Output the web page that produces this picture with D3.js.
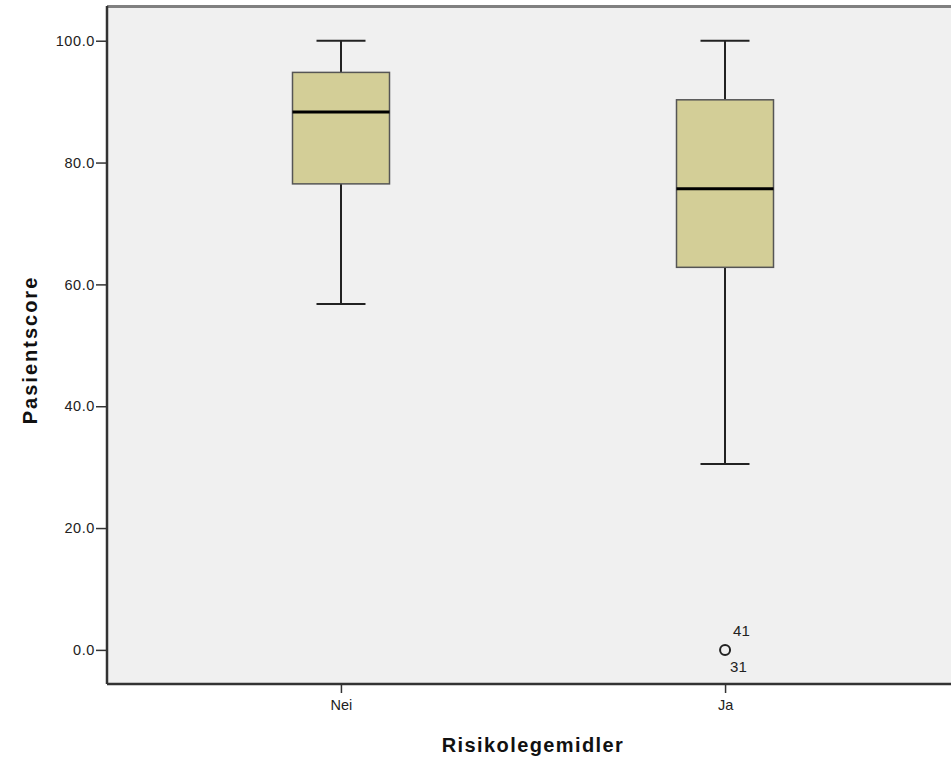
<!DOCTYPE html>
<html><head><meta charset="utf-8">
<script src="https://cdn.jsdelivr.net/npm/d3@7"></script>
<style>body{margin:0;background:#fff;}svg{display:block;font-family:"Liberation Sans",Arial,sans-serif;}</style>
</head><body>
<svg id="c" width="951" height="761"></svg>
<script>
const categories = ["Nei", "Ja"];
const whiskerLow = [56.8, 30.5];
const q1 = [76.5, 62.8];
const medians = [88.3, 75.7];
const q3 = [94.8, 90.3];
const whiskerHigh = [100, 100];
const outlierCategory = ["Ja"];
const outlierValue = [0];
const outlierLabels = [["41", "31"]];
const yTicks = [0, 20, 40, 60, 80, 100];

const svg = d3.select("#c");
const L = 107, T = 6, R = 959, B = 684;
const y = d3.scaleLinear().domain([-5.6, 105.7]).range([B, T]);
const x = d3.scalePoint().domain(categories).range([L, R]).padding(0.609);

svg.append("rect").attr("x", L).attr("y", T).attr("width", R - L).attr("height", B - T).attr("fill", "#f0f0f0");
svg.append("line").attr("x1", L).attr("x2", R).attr("y1", T + 0.5).attr("y2", T + 0.5).attr("stroke", "#808080").attr("stroke-width", 3);

const boxW = 97, capW = 49;
const data = categories.map((c, i) => ({c, lo: whiskerLow[i], q1: q1[i], med: medians[i], q3: q3[i], hi: whiskerHigh[i]}));
const g = svg.append("g");
data.forEach(d => {
  const cx = Math.round(x(d.c));
  g.append("line").attr("x1", cx).attr("x2", cx).attr("y1", y(d.hi)).attr("y2", y(d.q3)).attr("stroke", "#222").attr("stroke-width", 2);
  g.append("line").attr("x1", cx).attr("x2", cx).attr("y1", y(d.q1)).attr("y2", y(d.lo)).attr("stroke", "#222").attr("stroke-width", 2);
  g.append("line").attr("x1", cx - capW/2).attr("x2", cx + capW/2).attr("y1", y(d.hi)).attr("y2", y(d.hi)).attr("stroke", "#222").attr("stroke-width", 2);
  g.append("line").attr("x1", cx - capW/2).attr("x2", cx + capW/2).attr("y1", y(d.lo)).attr("y2", y(d.lo)).attr("stroke", "#222").attr("stroke-width", 2);
  g.append("rect").attr("x", cx - boxW/2).attr("y", y(d.q3)).attr("width", boxW).attr("height", y(d.q1) - y(d.q3))
    .attr("fill", "#d3ce97").attr("stroke", "#555").attr("stroke-width", 1.5);
  g.append("line").attr("x1", cx - boxW/2).attr("x2", cx + boxW/2).attr("y1", y(d.med)).attr("y2", y(d.med)).attr("stroke", "#000").attr("stroke-width", 3);
});

outlierCategory.forEach((c, i) => {
  const cx = x(c), cy = y(outlierValue[i]);
  g.append("circle").attr("cx", cx).attr("cy", cy).attr("r", 5).attr("fill", "none").attr("stroke", "#222").attr("stroke-width", 2);
  g.append("text").attr("x", cx + 8).attr("y", cy - 14).attr("font-size", 15).attr("fill", "#222").text(outlierLabels[i][0]);
  g.append("text").attr("x", cx + 5).attr("y", cy + 22).attr("font-size", 15).attr("fill", "#222").text(outlierLabels[i][1]);
});

const yAxis = svg.append("g").attr("transform", `translate(${L},0)`)
  .call(d3.axisLeft(y).tickValues(yTicks).tickFormat(d3.format(".1f")).tickSize(11).tickPadding(1));
yAxis.select(".domain").attr("d", `M0,${T}V${B}`).attr("stroke", "#333").attr("stroke-width", 2.5);
yAxis.selectAll(".tick line").attr("stroke", "#333").attr("stroke-width", 1.5);
yAxis.selectAll(".tick text").attr("font-size", 14.5).attr("letter-spacing", 0.6).attr("fill", "#222").attr("font-family", "Liberation Sans, Arial, sans-serif");

const xAxis = svg.append("g").attr("transform", `translate(0,${B})`)
  .call(d3.axisBottom(x).tickSize(9).tickPadding(7));
xAxis.select(".domain").attr("d", `M${L},0H${R}`).attr("stroke", "#333").attr("stroke-width", 2.5);
xAxis.selectAll(".tick line").attr("stroke", "#333").attr("stroke-width", 1.5);
xAxis.selectAll(".tick text").attr("font-size", 14.5).attr("fill", "#222").attr("font-family", "Liberation Sans, Arial, sans-serif");

svg.append("text").attr("x", 533).attr("y", 752).attr("text-anchor", "middle").attr("font-size", 20).attr("letter-spacing", 1.4).attr("font-weight", "bold").attr("fill", "#111").text("Risikolegemidler");
svg.append("text").attr("transform", "translate(37,350) rotate(-90)").attr("text-anchor", "middle").attr("font-size", 20).attr("letter-spacing", 2).attr("font-weight", "bold").attr("fill", "#111").text("Pasientscore");
</script>
</body></html>
